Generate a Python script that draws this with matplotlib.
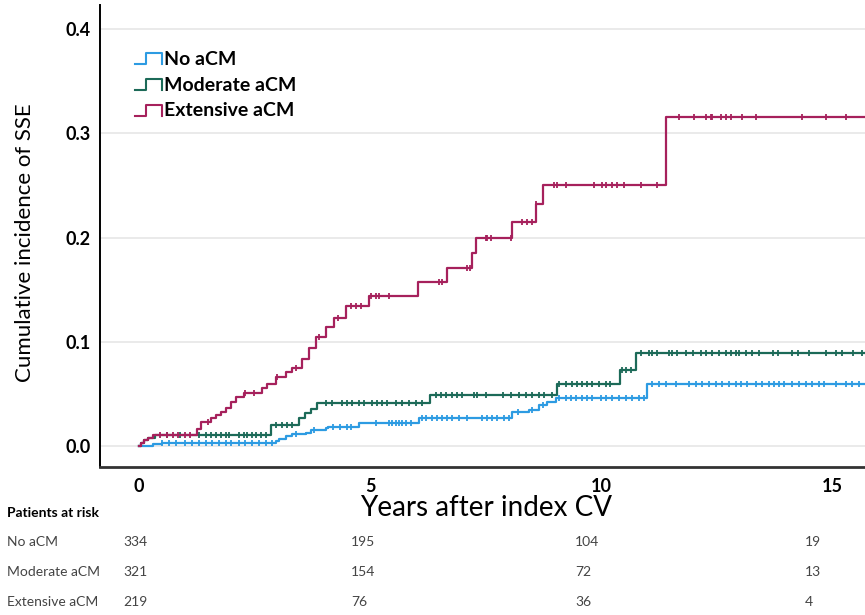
import numpy as np
import matplotlib
matplotlib.use("Agg")
import matplotlib.pyplot as plt
from matplotlib.legend_handler import HandlerBase
from matplotlib.lines import Line2D

plt.rcParams['font.family'] = ['Lato', 'DejaVu Sans']

# step curves (time in years, cumulative incidence)
t_no = [0, 0.3, 0.5, 2.97, 3.03, 3.18, 3.32, 3.62, 3.72, 4.05, 4.1, 4.76, 6.06,
        8.07, 8.44, 8.66, 8.83, 9.03, 11.0]
y_no = [0, 0.002, 0.003, 0.005, 0.007, 0.010, 0.012, 0.013, 0.015, 0.017, 0.018,
        0.022, 0.027, 0.033, 0.035, 0.039, 0.042, 0.046, 0.060]

t_mod = [0, 0.05, 0.12, 0.2, 0.35, 2.85, 3.46, 3.6, 3.72, 3.85, 6.3, 9.05, 10.4, 10.76]
y_mod = [0, 0.003, 0.006, 0.008, 0.011, 0.020, 0.027, 0.032, 0.036, 0.041, 0.049,
         0.060, 0.073, 0.089]

t_ext = [0, 0.05, 0.12, 0.2, 0.3, 1.26, 1.34, 1.56, 1.66, 1.77, 1.88, 2.0, 2.1, 2.27,
         2.67, 2.77, 2.96, 3.18, 3.32, 3.53, 3.68, 3.83, 4.05, 4.22, 4.48, 4.98, 6.04,
         6.67, 7.2, 7.3, 8.07, 8.6, 8.75, 11.4]
y_ext = [0, 0.003, 0.006, 0.008, 0.011, 0.016, 0.023, 0.027, 0.030, 0.033, 0.037,
         0.042, 0.047, 0.051, 0.056, 0.060, 0.066, 0.071, 0.075, 0.084, 0.094, 0.105,
         0.114, 0.123, 0.134, 0.144, 0.157, 0.171, 0.185, 0.200, 0.215, 0.232, 0.250,
         0.316]

# censoring times
c_no = [0.5, 0.65, 0.8, 1.0, 1.15, 1.3, 1.45, 1.58, 1.73, 1.88, 2.0, 2.16, 2.3, 2.45,
        2.6, 2.75, 2.88, 3.4, 3.8, 4.2, 4.35, 4.5, 4.6, 5.13, 5.41, 5.48, 5.56, 5.63,
        5.69, 5.78, 5.89, 6.13, 6.21, 6.34, 6.45, 6.56, 6.67, 6.78, 6.93, 7.1, 7.42,
        7.53, 7.64, 7.75, 7.9, 8.0, 8.2, 8.5, 8.75, 9.09, 9.24, 9.35, 9.46, 9.59, 9.7,
        9.81, 10.0, 10.1, 10.24, 10.39, 10.54, 10.67, 10.82, 10.93, 11.1, 11.26, 11.41,
        11.62, 11.9, 12.06, 12.19, 12.34, 12.49, 12.62, 12.77, 12.92, 13.03, 13.16,
        13.35, 13.48, 13.64, 13.74, 13.85, 13.96, 14.13, 14.29, 14.44, 14.57, 14.72,
        14.83, 15.09, 15.3, 15.43, 15.58]
c_mod = [0.6, 0.9, 1.3, 1.45, 1.56, 1.67, 1.77, 1.88, 1.95, 2.16, 2.27, 2.34, 2.45,
         2.53, 2.64, 2.75, 2.97, 3.1, 3.2, 3.31, 4.05, 4.18, 4.39, 4.5, 4.61, 4.76,
         4.87, 5.04, 5.15, 5.26, 5.37, 5.56, 5.69, 5.84, 5.99, 6.13, 6.42, 6.54, 6.65,
         6.78, 6.88, 7.0, 7.25, 7.32, 7.51, 7.87, 8.05, 8.23, 8.38, 8.51, 8.66, 8.77,
         8.94, 9.09, 9.24, 9.37, 9.48, 9.59, 9.7, 9.8, 9.96, 10.1, 10.2, 10.45, 10.55,
         10.65, 10.86, 11.04, 11.11, 11.22, 11.47, 11.54, 11.65, 11.83, 11.98, 12.16,
         12.27, 12.41, 12.55, 12.7, 12.81, 12.92, 12.99, 13.13, 13.27, 13.41, 13.71,
         13.82, 14.14, 14.25, 14.5, 14.86, 15.08, 15.22, 15.44, 15.65]
c_ext = [0.45, 0.6, 0.75, 0.85, 1.0, 1.1, 1.5, 2.3, 2.5, 3.0, 3.4, 3.9, 4.3, 4.6, 4.7,
         4.8, 5.02, 5.13, 5.19, 5.41, 6.49, 6.56, 7.1, 7.17, 7.5, 7.54, 7.62, 8.05, 8.3,
         8.4, 8.5, 8.6, 8.98, 9.05, 9.24, 9.85, 10.02, 10.1, 10.24, 10.35, 10.5, 10.87,
         11.2, 11.69, 12.01, 12.27, 12.38, 12.4, 12.6, 12.7, 12.81, 13.05, 13.36, 14.35,
         14.87, 15.3]

groups = ["No aCM", "Moderate aCM", "Extensive aCM"]
colors = ["#2d9be2", "#1c6a58", "#a6215c"]

# patients at risk table
risk_times = [0, 5, 10, 15]
at_risk = {
    "No aCM": [334, 195, 104, 19],
    "Moderate aCM": [321, 154, 72, 13],
    "Extensive aCM": [219, 76, 36, 4],
}

W, H = 865, 615
XMAX = 15.71


class StepHandler(HandlerBase):
    def create_artists(self, legend, orig_handle, xdescent, ydescent, width, height,
                       fontsize, trans):
        x0, y0 = -xdescent, -ydescent
        xs = [x0, x0 + 0.4 * width, x0 + 0.4 * width, x0 + width, x0 + width]
        ys = [y0 + 0.05 * height, y0 + 0.05 * height, y0 + 0.85 * height,
              y0 + 0.85 * height, y0 + 0.05 * height]
        line = Line2D(xs, ys, color=orig_handle.get_color(), lw=1.5, transform=trans)
        return [line]


fig = plt.figure(figsize=(W / 100, H / 100), dpi=100)
ax = fig.add_axes([100 / W, 1 - 467 / H, 1 - 100 / W, (467 - 5) / H])

handles = []
for t, y, c, col, name in [(t_no, y_no, c_no, colors[0], groups[0]),
                           (t_mod, y_mod, c_mod, colors[1], groups[1]),
                           (t_ext, y_ext, c_ext, colors[2], groups[2])]:
    tt = list(t) + [XMAX + 0.2]
    yy = list(y) + [y[-1]]
    h, = ax.step(tt, yy, where='post', color=col, lw=1.6, label=name)
    idx = np.searchsorted(t, c, side='right') - 1
    ax.plot(c, np.array(y)[idx], ls='none', marker='|', ms=5, mew=1.3, color=col)
    handles.append(h)

ax.set_xlim(-0.84, XMAX)
ax.set_ylim(-0.02, 0.423)
ax.set_xticks([0, 5, 10, 15])
ax.set_yticks([0.0, 0.1, 0.2, 0.3, 0.4])
ax.set_yticklabels(["0.0", "0.1", "0.2", "0.3", "0.4"])
ax.tick_params(length=0, labelsize=13)
ax.tick_params(axis='x', pad=8)
ax.tick_params(axis='y', pad=7)
for lab in ax.get_xticklabels() + ax.get_yticklabels():
    lab.set_fontweight('bold')

ax.grid(axis='y', color='#e6e6e6', lw=1.2)
ax.set_axisbelow(True)
for s in ['top', 'right']:
    ax.spines[s].set_visible(False)
ax.spines['left'].set_linewidth(1.4)
ax.spines['bottom'].set_linewidth(2.0)
ax.spines['bottom'].set_color('#333333')

ax.set_ylabel("Cumulative incidence of SSE", fontsize=16)
ax.yaxis.set_label_coords(-0.085, 0.485)
ax.set_xlabel("Years after index CV", fontsize=20)
ax.xaxis.set_label_coords(0.505, -0.06)

leg = ax.legend(handles=handles, labels=groups, loc='upper left',
                bbox_to_anchor=(27 / 765, 1 - 38 / 462), frameon=False,
                handler_map={h: StepHandler() for h in handles},
                handlelength=1.4, handletextpad=0.12, labelspacing=0.45,
                prop={'weight': 'bold', 'size': 14}, borderaxespad=0)

# patients at risk
fig.text(7 / W, 1 - 513 / H, "Patients at risk", fontsize=10, fontweight='bold',
         va='center', ha='left')
row_y = [542, 572, 602]
col_x = [123, 351, 575, 805]
for name, ry in zip(groups, row_y):
    fig.text(7 / W, 1 - ry / H, name, fontsize=10, color='#444444', va='center')
    for n, cx in zip(at_risk[name], col_x):
        fig.text(cx / W, 1 - ry / H, str(n), fontsize=10, color='#444444', va='center')

fig.savefig("out.png", dpi=100)
